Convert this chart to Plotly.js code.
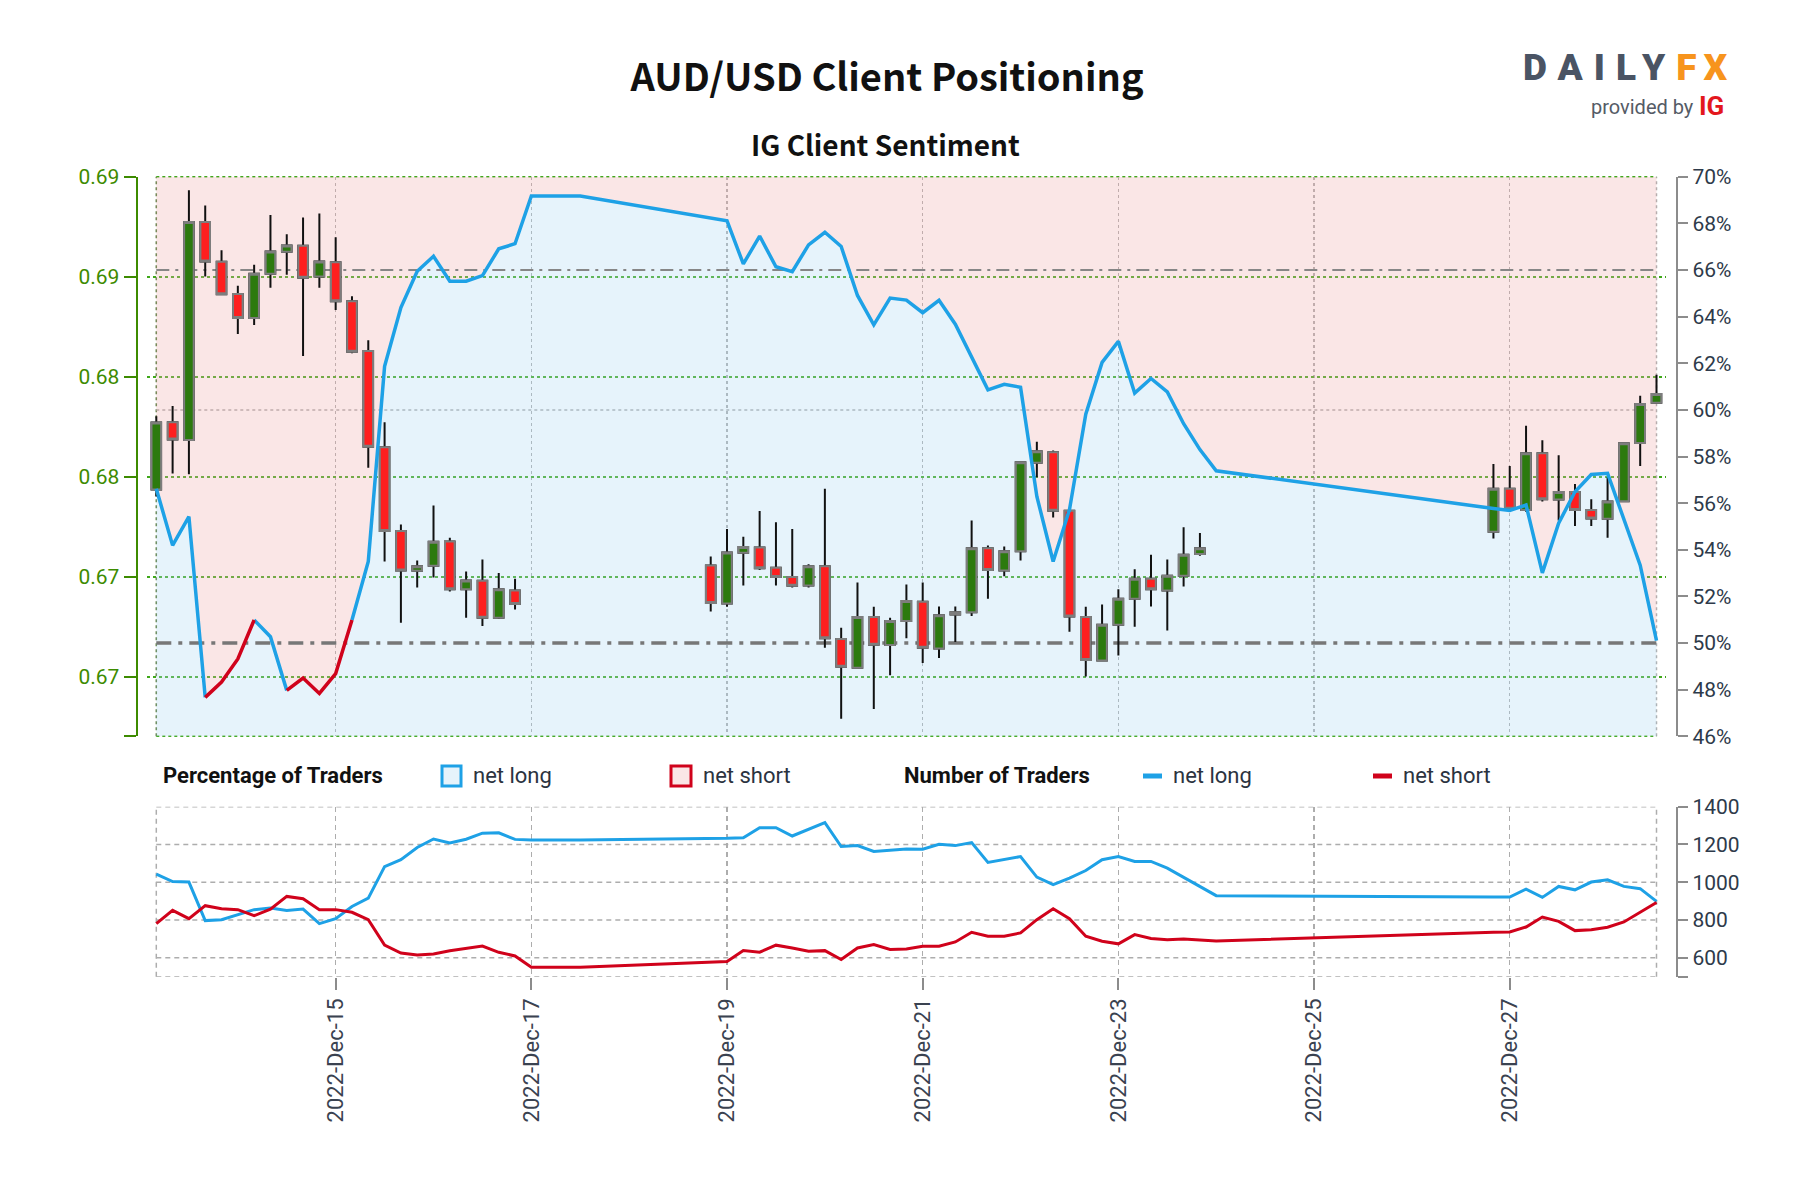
<!DOCTYPE html>
<html><head><meta charset="utf-8">
<script src="https://cdn.plot.ly/plotly-3.0.1.min.js"></script>
<style>html,body{margin:0;padding:0;background:#fff}</style>
</head><body><div id="chart" style="width:1800px;height:1200px"></div>
<script>
// ---------------- DATA ----------------
const candleTime = ['2022-12-13 04:00','2022-12-13 08:00','2022-12-13 12:00','2022-12-13 16:00','2022-12-13 20:00','2022-12-14 00:00','2022-12-14 04:00','2022-12-14 08:00','2022-12-14 12:00','2022-12-14 16:00','2022-12-14 20:00','2022-12-15 00:00','2022-12-15 04:00','2022-12-15 08:00','2022-12-15 12:00','2022-12-15 16:00','2022-12-15 20:00','2022-12-16 00:00','2022-12-16 04:00','2022-12-16 08:00','2022-12-16 12:00','2022-12-16 16:00','2022-12-16 20:00',
'2022-12-18 20:00','2022-12-19 00:00','2022-12-19 04:00','2022-12-19 08:00','2022-12-19 12:00','2022-12-19 16:00','2022-12-19 20:00','2022-12-20 00:00','2022-12-20 04:00','2022-12-20 08:00','2022-12-20 12:00','2022-12-20 16:00','2022-12-20 20:00','2022-12-21 00:00','2022-12-21 04:00','2022-12-21 08:00','2022-12-21 12:00','2022-12-21 16:00','2022-12-21 20:00','2022-12-22 00:00','2022-12-22 04:00','2022-12-22 08:00','2022-12-22 12:00','2022-12-22 16:00','2022-12-22 20:00','2022-12-23 00:00','2022-12-23 04:00','2022-12-23 08:00','2022-12-23 12:00','2022-12-23 16:00','2022-12-23 20:00',
'2022-12-26 20:00','2022-12-27 00:00','2022-12-27 04:00','2022-12-27 08:00','2022-12-27 12:00','2022-12-27 16:00','2022-12-27 20:00','2022-12-28 00:00','2022-12-28 04:00','2022-12-28 08:00','2022-12-28 12:00'];
const candleOpen = [0.67437,0.67773,0.67685,0.68774,0.68575,0.68414,0.68294,0.68516,0.68625,0.68656,0.68502,0.68573,0.68378,0.68129,0.67649,0.67230,0.67031,0.67056,0.67178,0.66939,0.66981,0.66796,0.66933,
0.67058,0.66868,0.67121,0.67148,0.67046,0.67000,0.66958,0.67054,0.66690,0.66547,0.66800,0.66660,0.66780,0.66876,0.66643,0.66813,0.66824,0.67144,0.67033,0.67129,0.67571,0.67624,0.67331,0.66800,0.66583,0.66761,0.66891,0.66991,0.66933,0.67006,0.67115,
0.67226,0.67441,0.67335,0.67618,0.67387,0.67425,0.67335,0.67291,0.67379,0.67670,0.67871];
const candleHigh = [0.67804,0.67854,0.68933,0.68856,0.68633,0.68455,0.68560,0.68809,0.68713,0.68797,0.68816,0.68698,0.68403,0.68183,0.67773,0.67263,0.67083,0.67358,0.67196,0.67027,0.67087,0.67020,0.66991,
0.67102,0.67240,0.67201,0.67330,0.67274,0.67240,0.67064,0.67441,0.66746,0.66972,0.66851,0.66796,0.66962,0.66972,0.66853,0.66853,0.67282,0.67157,0.67153,0.67573,0.67676,0.67632,0.67331,0.66851,0.66863,0.66939,0.67039,0.67111,0.67087,0.67249,0.67220,
0.67565,0.67555,0.67756,0.67684,0.67609,0.67465,0.67389,0.67498,0.67668,0.67906,0.68011];
const candleLow = [0.67402,0.67517,0.67513,0.68502,0.68411,0.68215,0.68259,0.68445,0.68510,0.68104,0.68445,0.68334,0.68118,0.67546,0.67077,0.66771,0.66947,0.66997,0.66928,0.66796,0.66755,0.66790,0.66838,
0.66828,0.66851,0.66958,0.67035,0.66958,0.66947,0.66947,0.66646,0.66292,0.66547,0.66340,0.66509,0.66694,0.66570,0.66595,0.66675,0.66805,0.66891,0.67004,0.67083,0.67498,0.67297,0.66727,0.66503,0.66583,0.66608,0.66752,0.66853,0.66733,0.66953,0.67106,
0.67192,0.67326,0.67326,0.67377,0.67282,0.67255,0.67255,0.67196,0.67379,0.67555,0.67867];
const candleClose = [0.67772,0.67687,0.68774,0.68577,0.68413,0.68294,0.68516,0.68627,0.68657,0.68495,0.68577,0.68378,0.68126,0.67651,0.67230,0.67033,0.67054,0.67176,0.66939,0.66983,0.66796,0.66939,0.66865,
0.66870,0.67123,0.67150,0.67044,0.67000,0.66956,0.67054,0.66694,0.66551,0.66800,0.66662,0.66780,0.66880,0.66646,0.66809,0.66824,0.67144,0.67035,0.67129,0.67573,0.67628,0.67331,0.66803,0.66585,0.66761,0.66891,0.66991,0.66939,0.67006,0.67111,0.67144,
0.67441,0.67341,0.67618,0.67389,0.67425,0.67335,0.67293,0.67377,0.67668,0.67865,0.67915];

// % of traders net long
const sentTime = ['2022-12-13 04:00','2022-12-13 08:00','2022-12-13 12:00','2022-12-13 16:00','2022-12-13 20:00','2022-12-14 00:00','2022-12-14 04:00','2022-12-14 08:00','2022-12-14 12:00','2022-12-14 16:00','2022-12-14 20:00','2022-12-15 00:00','2022-12-15 04:00','2022-12-15 08:00','2022-12-15 12:00','2022-12-15 16:00','2022-12-15 20:00','2022-12-16 00:00','2022-12-16 04:00','2022-12-16 08:00','2022-12-16 12:00','2022-12-16 16:00','2022-12-16 20:00','2022-12-17 00:00','2022-12-17 08:00','2022-12-17 12:00',
'2022-12-19 00:00','2022-12-19 04:00','2022-12-19 08:00','2022-12-19 12:00','2022-12-19 16:00','2022-12-19 20:00','2022-12-20 00:00','2022-12-20 04:00','2022-12-20 08:00','2022-12-20 12:00','2022-12-20 16:00','2022-12-20 20:00','2022-12-21 00:00','2022-12-21 04:00','2022-12-21 08:00','2022-12-21 12:00','2022-12-21 16:00','2022-12-21 20:00','2022-12-22 00:00','2022-12-22 04:00','2022-12-22 08:00','2022-12-22 12:00','2022-12-22 16:00','2022-12-22 20:00','2022-12-23 00:00','2022-12-23 04:00','2022-12-23 08:00','2022-12-23 12:00','2022-12-23 16:00','2022-12-23 20:00','2022-12-24 00:00',
'2022-12-26 20:00','2022-12-27 00:00','2022-12-27 04:00','2022-12-27 08:00','2022-12-27 12:00','2022-12-27 16:00','2022-12-27 20:00','2022-12-28 00:00','2022-12-28 08:00','2022-12-28 12:00'];
const sentPct = [56.62,54.19,55.42,47.67,48.33,49.32,50.99,50.27,47.97,48.50,47.84,48.69,50.99,53.50,61.87,64.39,65.95,66.59,65.52,65.52,65.76,66.91,67.13,69.18,69.18,69.18,
68.11,66.26,67.46,66.14,65.93,67.08,67.62,67.01,64.91,63.65,64.80,64.71,64.17,64.70,63.68,62.28,60.86,61.10,60.97,56.29,53.50,55.72,59.82,62.04,62.94,60.72,61.35,60.77,59.41,58.30,57.39,
55.77,55.69,55.92,53.01,55.14,56.49,57.23,57.28,53.34,50.10];

// number of traders
const countTime = ['2022-12-13 04:00','2022-12-13 08:00','2022-12-13 12:00','2022-12-13 16:00','2022-12-13 20:00','2022-12-14 00:00','2022-12-14 04:00','2022-12-14 08:00','2022-12-14 12:00','2022-12-14 16:00','2022-12-14 20:00','2022-12-15 00:00','2022-12-15 04:00','2022-12-15 08:00','2022-12-15 12:00','2022-12-15 16:00','2022-12-15 20:00','2022-12-16 00:00','2022-12-16 04:00','2022-12-16 08:00','2022-12-16 12:00','2022-12-16 16:00','2022-12-16 20:00','2022-12-17 00:00','2022-12-17 08:00','2022-12-17 12:00',
'2022-12-19 00:00','2022-12-19 04:00','2022-12-19 08:00','2022-12-19 12:00','2022-12-19 16:00','2022-12-19 20:00','2022-12-20 00:00','2022-12-20 04:00','2022-12-20 08:00','2022-12-20 12:00','2022-12-20 16:00','2022-12-20 20:00','2022-12-21 00:00','2022-12-21 04:00','2022-12-21 08:00','2022-12-21 12:00','2022-12-21 16:00','2022-12-21 20:00','2022-12-22 00:00','2022-12-22 04:00','2022-12-22 08:00','2022-12-22 12:00','2022-12-22 16:00','2022-12-22 20:00','2022-12-23 00:00','2022-12-23 04:00','2022-12-23 08:00','2022-12-23 12:00','2022-12-23 16:00','2022-12-23 20:00','2022-12-24 00:00',
'2022-12-26 20:00','2022-12-27 00:00','2022-12-27 04:00','2022-12-27 08:00','2022-12-27 12:00','2022-12-27 16:00','2022-12-27 20:00','2022-12-28 00:00','2022-12-28 04:00','2022-12-28 08:00','2022-12-28 12:00'];
const countLong = [1043,1004,1001,797,802,828,855,864,851,858,781,807,872,916,1083,1120,1184,1229,1208,1228,1260,1262,1227,1224,1224,1224,
1233,1236,1289,1289,1245,1280,1316,1189,1194,1163,1171,1176,1175,1201,1194,1210,1105,1119,1136,1027,987,1022,1062,1119,1136,1110,1110,1075,1027,978,929,
922,922,964,920,978,960,1001,1013,978,966,899];
const countShort = [781,851,807,876,860,855,823,858,925,913,855,855,841,802,668,625,615,620,637,650,662,629,610,550,550,550,
580,638,630,667,652,635,638,591,652,670,644,647,661,661,684,735,714,714,732,802,860,807,714,688,674,723,702,696,700,693,689,
735,737,763,816,793,744,749,762,790,841,893];

// axis scales / ticks / reference levels
const xRange = ['2022-12-13 04:00', '2022-12-28 12:00'];
const dateTick0 = '2022-12-15';
const priceRange = [0.66204, 0.690];
const priceTickVals = [0.66204, 0.665, 0.670, 0.675, 0.680, 0.685, 0.690];
const priceTickText = ['', '0.67', '0.67', '0.68', '0.68', '0.69', '0.69'];
const pctRange = [46, 70];
const pctLevels = {neutral: 50, upper: 66, grid: 60};
const countRange = [500, 1400];
const countTickVals = [500, 600, 800, 1000, 1200, 1400];
const countTickText = ['', '600', '800', '1000', '1200', '1400'];

// ---------------- STYLE ----------------
const BLUE = '#1ea1e6', RED = '#d0021b';
const GREEN_UP = '#2c7a0e', RED_DN = '#fe1f1f';
const AXGREEN = '#3d8b00', GRIDGREEN = '#3fa81a';
const GRAY = '#8c8c8c', GRIDGRAY = '#adadad';
const FONT = 'Roboto, "Noto Sans", sans-serif';
const TFONT = '"Noto Sans CJK SC", "Noto Sans", sans-serif';

// sentiment line split into segments coloured by starting value
const blueSeg = {x: [], y: []}, redSeg = {x: [], y: []};
for (let i = 0; i < sentTime.length - 1; i++) {
  const seg = sentPct[i] < pctLevels.neutral ? redSeg : blueSeg;
  const n = seg.x.length;
  if (n === 0 || seg.x[n - 1] !== sentTime[i]) {
    if (n) { seg.x.push(null); seg.y.push(null); }
    seg.x.push(sentTime[i]); seg.y.push(sentPct[i]);
  }
  seg.x.push(sentTime[i + 1]); seg.y.push(sentPct[i + 1]);
}
const bodyHigh = candleOpen.map((o, i) => Math.max(o, candleClose[i]));
const bodyLow = candleOpen.map((o, i) => Math.min(o, candleClose[i]));

// geometry: plot frame in pixels, plus a small clip margin so edge candles are not cut
const FRAME_L = 156.3, FRAME_R = 1656.5, CLIPPAD = 9;
const ms0 = Date.parse(xRange[0].replace(' ', 'T') + 'Z'), ms1 = Date.parse(xRange[1].replace(' ', 'T') + 'Z');
const padMs = CLIPPAD * (ms1 - ms0) / (FRAME_R - FRAME_L);
const viewRange = [ms0 - padMs, ms1 + padMs];
const XD = [(FRAME_L - CLIPPAD) / 1800, (FRAME_R + CLIPPAD) / 1800];
const YTOP = [1 - 736.3 / 1200, 1 - 176.8 / 1200];
const YBOT = [1 - 976.7 / 1200, 1 - 806.7 / 1200];
const RIGHTPOS = 1677.2 / 1800, LEFTPOS = 136.6 / 1800;
const DAY = 86400000;
const px = v => v / 1800, py = v => 1 - v / 1200;

const traces = [
  {x: xRange, y: [pctRange[1], pctRange[1]], xaxis: 'x', yaxis: 'y', mode: 'lines', line: {width: 0}, hoverinfo: 'skip', showlegend: false},
  {x: sentTime, y: sentPct, xaxis: 'x', yaxis: 'y', mode: 'lines', line: {width: 0}, fill: 'tonexty', fillcolor: 'rgba(238,172,172,0.3)', hoverinfo: 'skip', showlegend: false},
  {x: sentTime, y: sentPct, xaxis: 'x', yaxis: 'y', mode: 'lines', line: {width: 0}, fill: 'tozeroy', fillcolor: 'rgba(172,215,242,0.3)', hoverinfo: 'skip', showlegend: false},
  // reference levels (66% thin, 50% thick)
  {x: xRange, y: [pctLevels.upper, pctLevels.upper], xaxis: 'x', yaxis: 'y', mode: 'lines', line: {color: '#868686', width: 2, dash: '13px,6px,3px,6px'}, hoverinfo: 'skip', showlegend: false},
  {x: xRange, y: [pctLevels.neutral, pctLevels.neutral], xaxis: 'x', yaxis: 'y', mode: 'lines', line: {color: '#777', width: 3.5, dash: '15px,7px,4px,7px'}, hoverinfo: 'skip', showlegend: false},
  {type: 'candlestick', x: candleTime, open: candleOpen, high: candleHigh, low: candleLow, close: candleClose, xaxis: 'x', yaxis: 'y2',
   increasing: {fillcolor: GREEN_UP, line: {color: '#111', width: 2}}, decreasing: {fillcolor: RED_DN, line: {color: '#111', width: 2}}, whiskerwidth: 0, showlegend: false},
  {type: 'candlestick', x: candleTime, open: candleOpen, high: bodyHigh, low: bodyLow, close: candleClose, xaxis: 'x', yaxis: 'y2',
   increasing: {fillcolor: GREEN_UP, line: {color: '#7d7d7d', width: 2}}, decreasing: {fillcolor: RED_DN, line: {color: '#7d7d7d', width: 2}}, whiskerwidth: 0, showlegend: false, hoverinfo: 'skip'},
  {x: blueSeg.x, y: blueSeg.y, xaxis: 'x', yaxis: 'y4', mode: 'lines', line: {color: BLUE, width: 3.5}, showlegend: false},
  {x: redSeg.x, y: redSeg.y, xaxis: 'x', yaxis: 'y4', mode: 'lines', line: {color: RED, width: 3.5}, showlegend: false},
  {x: countTime, y: countLong, xaxis: 'x2', yaxis: 'y3', mode: 'lines', line: {color: BLUE, width: 3}, showlegend: false},
  {x: countTime, y: countShort, xaxis: 'x2', yaxis: 'y3', mode: 'lines', line: {color: RED, width: 3}, showlegend: false}
];

const border = (xr, yr, x0, x1, y0, y1, color, dash) =>
  ({type: 'line', xref: xr, yref: yr, x0, x1, y0, y1, line: {color, width: 1.5, dash}, layer: 'below'});

const layout = {
  width: 1800, height: 1200, autosize: false,
  margin: {l: 0, r: 0, t: 0, b: 0},
  paper_bgcolor: '#fff', plot_bgcolor: 'rgba(0,0,0,0)',
  boxgap: 0.16, boxgroupgap: 0.3,
  title: {text: 'AUD/USD Client Positioning', x: 0.4928, y: 0.935, xanchor: 'center', yanchor: 'middle',
          font: {family: TFONT, size: 38, color: '#111', weight: 700}},
  xaxis: {domain: XD, anchor: 'y', type: 'date', range: viewRange, tick0: dateTick0, dtick: 2 * DAY,
          showticklabels: false, ticks: '', showgrid: true, gridcolor: GRIDGRAY, griddash: '3px,3px', gridwidth: 1.5,
          zeroline: false, showline: false, rangeslider: {visible: false}},
  xaxis2: {domain: XD, anchor: 'y3', matches: 'x', type: 'date', range: viewRange, tick0: dateTick0, dtick: 2 * DAY,
           tickformat: '%Y-%b-%d', tickangle: -90, ticks: 'outside', ticklen: 12, tickwidth: 2, tickcolor: GRAY,
           showgrid: true, gridcolor: GRIDGRAY, griddash: '5px,4px', gridwidth: 1.5, zeroline: false, showline: false,
           tickfont: {family: FONT, size: 22, color: '#3a4250'}, rangeslider: {visible: false}},
  yaxis: {domain: YTOP, anchor: 'free', position: RIGHTPOS, side: 'right', range: pctRange, tick0: pctRange[0], dtick: 2, ticksuffix: '%',
          showgrid: false, zeroline: false, showline: true, linecolor: GRAY, linewidth: 2,
          ticks: 'outside', ticklen: 10, tickwidth: 2, tickcolor: GRAY, tickfont: {family: FONT, size: 21, color: '#2e3a4a'}},
  yaxis2: {overlaying: 'y', side: 'left', anchor: 'free', position: LEFTPOS, range: priceRange,
           tickmode: 'array', tickvals: priceTickVals, ticktext: priceTickText,
           showgrid: true, gridcolor: GRIDGREEN, griddash: '3px,3px', gridwidth: 1.5, zeroline: false,
           showline: true, linecolor: AXGREEN, linewidth: 2, ticks: 'outside', ticklen: 12, tickwidth: 2, tickcolor: AXGREEN,
           tickfont: {family: FONT, size: 21, color: AXGREEN}},
  yaxis4: {overlaying: 'y', range: pctRange, visible: false, showgrid: false, zeroline: false},
  yaxis3: {domain: YBOT, anchor: 'free', position: RIGHTPOS, side: 'right', range: countRange,
           tickmode: 'array', tickvals: countTickVals, ticktext: countTickText,
           showgrid: false, zeroline: false,
           showline: true, linecolor: GRAY, linewidth: 2, ticks: 'outside', ticklen: 10, tickwidth: 2, tickcolor: GRAY,
           tickfont: {family: FONT, size: 21, color: '#2e3a4a'}},
  shapes: [
    // top frame
    border('x', 'y domain', xRange[0], xRange[0], 0, 1, '#5f7f45', '3px,3px'),
    border('x', 'y domain', xRange[1], xRange[1], 0, 1, GRIDGRAY, '3px,3px'),
    border('x', 'y domain', xRange[0], xRange[1], 1, 1, GRIDGREEN, '3px,3px'),
    border('x', 'y domain', xRange[0], xRange[1], 0, 0, GRIDGREEN, '3px,3px'),
    border('x', 'y', xRange[0], xRange[1], pctLevels.grid, pctLevels.grid, GRIDGRAY, '3px,3px'),
    // lower frame + horizontal grid
    border('x2', 'y3 domain', xRange[0], xRange[0], 0, 1, GRIDGRAY, '5px,4px'),
    border('x2', 'y3 domain', xRange[1], xRange[1], 0, 1, GRIDGRAY, '5px,4px'),
    ...countTickVals.map(v => border('x2', 'y3', xRange[0], xRange[1], v, v, GRIDGRAY, '5px,4px')),
    // legend symbols
    {type: 'rect', xref: 'paper', yref: 'paper', x0: px(442), x1: px(461), y0: py(786), y1: py(766), line: {color: BLUE, width: 3}, fillcolor: '#e6f3fb'},
    {type: 'rect', xref: 'paper', yref: 'paper', x0: px(671), x1: px(691), y0: py(786), y1: py(766), line: {color: RED, width: 3}, fillcolor: '#fae6e6'},
    {type: 'line', xref: 'paper', yref: 'paper', x0: px(1143), x1: px(1162), y0: py(776), y1: py(776), line: {color: BLUE, width: 5}},
    {type: 'line', xref: 'paper', yref: 'paper', x0: px(1373), x1: px(1392), y0: py(776), y1: py(776), line: {color: RED, width: 5}}
  ],
  annotations: [
    {text: 'IG Client Sentiment', xref: 'paper', yref: 'paper', x: px(885), y: py(144), xanchor: 'center', yanchor: 'middle', showarrow: false,
     font: {family: TFONT, size: 28, color: '#111', weight: 700}},
    {text: '<b>Percentage of Traders</b>', xref: 'paper', yref: 'paper', x: px(161), y: py(776), xanchor: 'left', yanchor: 'middle', showarrow: false, font: {family: FONT, size: 22, color: '#111'}},
    {text: 'net long', xref: 'paper', yref: 'paper', x: px(471), y: py(776), xanchor: 'left', yanchor: 'middle', showarrow: false, font: {family: FONT, size: 22, color: '#2b3340'}},
    {text: 'net short', xref: 'paper', yref: 'paper', x: px(701), y: py(776), xanchor: 'left', yanchor: 'middle', showarrow: false, font: {family: FONT, size: 22, color: '#2b3340'}},
    {text: '<b>Number of Traders</b>', xref: 'paper', yref: 'paper', x: px(902), y: py(776), xanchor: 'left', yanchor: 'middle', showarrow: false, font: {family: FONT, size: 22, color: '#111'}},
    {text: 'net long', xref: 'paper', yref: 'paper', x: px(1171), y: py(776), xanchor: 'left', yanchor: 'middle', showarrow: false, font: {family: FONT, size: 22, color: '#2b3340'}},
    {text: 'net short', xref: 'paper', yref: 'paper', x: px(1401), y: py(776), xanchor: 'left', yanchor: 'middle', showarrow: false, font: {family: FONT, size: 22, color: '#2b3340'}},
    // logo
    {text: '<span style="letter-spacing:11px">DAILY</span><span style="color:#f7941d;letter-spacing:7px">FX</span>', xref: 'paper', yref: 'paper', x: px(1521), y: py(68), xanchor: 'left', yanchor: 'middle', showarrow: false,
     font: {family: FONT, size: 37, color: '#4a5464', weight: 900}},
    {text: 'provided by', xref: 'paper', yref: 'paper', x: px(1589), y: py(107), xanchor: 'left', yanchor: 'middle', showarrow: false, font: {family: FONT, size: 20, color: '#555b66'}},
    {text: '<b>IG</b>', xref: 'paper', yref: 'paper', x: px(1697), y: py(106), xanchor: 'left', yanchor: 'middle', showarrow: false, font: {family: FONT, size: 26, color: '#e3171d'}}
  ]
};

Plotly.newPlot('chart', traces, layout, {displayModeBar: false, staticPlot: true});
</script>
</body></html>
